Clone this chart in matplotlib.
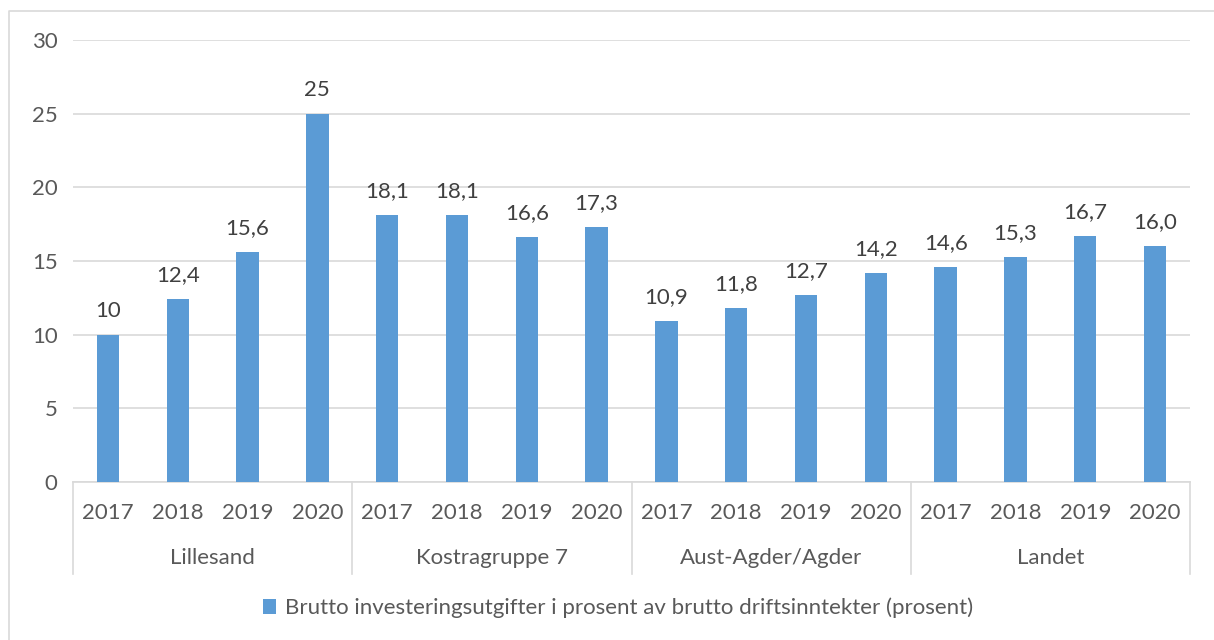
import matplotlib.pyplot as plt
from matplotlib.lines import Line2D

groups = ['Lillesand', 'Kostragruppe 7', 'Aust-Agder/Agder', 'Landet']
years = ['2017', '2018', '2019', '2020']
values = [10, 12.4, 15.6, 25,
          18.1, 18.1, 16.6, 17.3,
          10.9, 11.8, 12.7, 14.2,
          14.6, 15.3, 16.7, 16.0]
value_labels = ['10', '12,4', '15,6', '25',
                '18,1', '18,1', '16,6', '17,3',
                '10,9', '11,8', '12,7', '14,2',
                '14,6', '15,3', '16,7', '16,0']
series_name = 'Brutto investeringsutgifter i prosent av brutto driftsinntekter (prosent)'

plt.rcParams['font.family'] = ['Lato', 'DejaVu Sans']
txt = '#595959'
blue = '#5b9bd5'
fs = 16

fig = plt.figure(figsize=(12.14, 6.4), dpi=100)
# chart-area border, cropped on the right and bottom
fig.lines.append(Line2D([9 / 1214, 9 / 1214, 1.0], [0.0, 1 - 10.5 / 640, 1 - 10.5 / 640],
                        transform=fig.transFigure, color='#d9d9d9', linewidth=1.2))
ax = fig.add_axes([73 / 1214, 1 - 482 / 640, 1117 / 1214, 442 / 640])

x = list(range(len(values)))
bars = ax.bar(x, values, width=0.32, color=blue, label=series_name, zorder=3)
for xi, v, lab in zip(x, values, value_labels):
    ax.annotate(lab, (xi, v), xytext=(0, 10), textcoords='offset points',
                ha='center', va='bottom', fontsize=fs, color='#404040')

ax.set_xlim(-0.5, len(values) - 0.5)
ax.set_ylim(0, 30)
ax.set_yticks(range(0, 31, 5))
ax.tick_params(axis='y', length=0, pad=11, labelsize=fs, labelcolor=txt)
ax.set_xticks([])
ax.grid(axis='y', color='#d9d9d9', linewidth=1.2, zorder=0)
for s in ['top', 'right', 'left']:
    ax.spines[s].set_visible(False)
ax.spines['bottom'].set_color('#d9d9d9')
ax.spines['bottom'].set_linewidth(1.2)

tr = ax.get_xaxis_transform()
for i, xi in enumerate(x):
    ax.text(xi, -0.07, years[i % 4], transform=tr, ha='center', va='center',
            fontsize=fs, color=txt)
for g, name in enumerate(groups):
    ax.text(g * 4 + 1.5, -0.173, name, transform=tr, ha='center', va='center',
            fontsize=fs, color=txt)
for g in range(len(groups) + 1):
    ax.plot([g * 4 - 0.5, g * 4 - 0.5], [0, -0.208], transform=tr,
            color='#d9d9d9', linewidth=1.2, clip_on=False)

fig.legend(handles=[bars], loc='center', bbox_to_anchor=(618 / 1214, 1 - 608 / 640),
           frameon=False, fontsize=fs, labelcolor=txt, handlelength=0.6,
           handleheight=0.6, handletextpad=0.4)

plt.savefig('out.png', dpi=100)
